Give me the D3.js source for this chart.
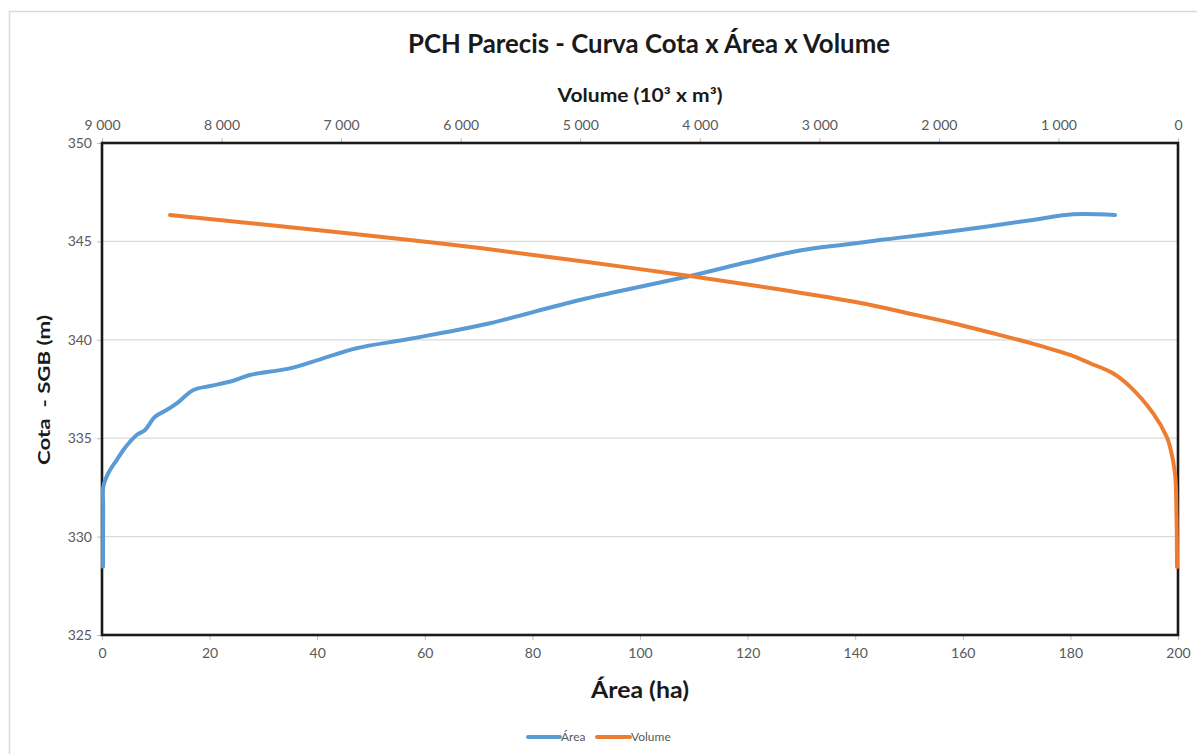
<!DOCTYPE html>
<html>
<head>
<meta charset="utf-8">
<script src="https://cdn.jsdelivr.net/npm/d3@7"></script>
<style>
  html, body { margin: 0; padding: 0; background: #fff; }
  svg { display: block; font-family: "Lato", "Open Sans", "Liberation Sans", sans-serif; }
</style>
</head>
<body>
<svg id="chart" width="1197" height="754"></svg>
<script>
// ---------------- data ----------------
const title = "PCH Parecis - Curva Cota x Área x Volume";
const xTitle = "Área (ha)";
const x2Title = "Volume (10³ x m³)";
const yTitle = "Cota  - SGB (m)";
const seriesNames = ["Área", "Volume"];

// Área curve: cota (m) and área (ha)
const areaCota = [328.47, 330.0, 331.5, 332.54, 333.05, 333.38, 333.89, 334.40, 334.82, 335.16, 335.42, 336.09, 336.43, 336.77, 337.45, 337.65, 337.92, 338.21, 338.55, 339.06, 339.57, 339.99, 340.33, 340.84, 342.02, 343.24, 343.95, 344.54, 344.87, 345.07, 345.50, 346.09, 346.38, 346.34];
const areaHa   = [0.19,   0.2,   0.22,  0.24,   0.87,   1.49,   2.73,   3.97,   5.2,    6.45,   8.0,    9.85,   12.0,   13.9,   17.0,   20.1,   24.4,   27.5,   34.9,   41.1,   47.3,   56.0,   62.8,   72.1,   88.8,   109.3,  120.1,  129.7,  139.0,  144.6,  157.6,  173.0,  180.5,  188.3];

// Volume curve: cota (m) and volume (10³ m³)
const volumeCota = [328.45, 331.2, 333.22, 334.57, 335.08, 336.27, 337.62, 338.30, 338.81, 339.23, 339.84, 340.37, 340.88, 341.44, 341.67, 341.97, 342.56, 343.24, 344.00, 344.66, 345.07, 345.72, 346.34];
const volumeK    = [8,      13,    25,     67,     95,     209,    401,    544,    736,    903,    1238,   1572,   1907,   2325,   2492,   2743,   3329,   4082,   5002,   5838,   6424,   7427,   8431];

// axes
const areaTicks   = [0, 20, 40, 60, 80, 100, 120, 140, 160, 180, 200];
const volumeTicks = [9000, 8000, 7000, 6000, 5000, 4000, 3000, 2000, 1000, 0];
const cotaTicks   = [325, 330, 335, 340, 345, 350];

// ---------------- drawing ----------------
const svg = d3.select("#chart");
const L = 102, R = 1178, T = 143, B = 635;
const blue = "#5B9BD5", orange = "#ED7D31";
const textGray = "#595959";

const fmt = d3.formatLocale({decimal: ",", thousands: "\u00a0", grouping: [3], currency: ["", ""]}).format(",d");

const x = d3.scaleLinear().domain([0, 200]).range([L, R]);
const x2 = d3.scaleLinear().domain([9000, 0]).range([L, R]);
const y = d3.scaleLinear().domain([325, 350]).range([B, T]);

// outer chart border
svg.append("rect").attr("x", 9.5).attr("y", 11.5).attr("width", 1220).attr("height", 780)
  .attr("fill", "#fff").attr("stroke", "#d9d9d9").attr("stroke-width", 1.5);

// gridlines
svg.append("g").selectAll("line").data(cotaTicks.filter(d => d > 325 && d < 350)).join("line")
  .attr("x1", L).attr("x2", R).attr("y1", d => y(d)).attr("y2", d => y(d))
  .attr("stroke", "#d9d9d9").attr("stroke-width", 1.2);

// axes
const yAxis = svg.append("g").attr("transform", `translate(${L},0)`)
  .call(d3.axisLeft(y).tickValues(cotaTicks).tickSize(5).tickPadding(5));
const xAxis = svg.append("g").attr("transform", `translate(0,${B})`)
  .call(d3.axisBottom(x).tickValues(areaTicks).tickSize(5).tickPadding(8));
const x2Axis = svg.append("g").attr("transform", `translate(0,${T})`)
  .call(d3.axisTop(x2).tickValues(volumeTicks).tickFormat(fmt).tickSize(5).tickPadding(8));
[yAxis, xAxis, x2Axis].forEach(g => {
  g.select(".domain").remove();
  g.selectAll(".tick line").attr("stroke", "#bfbfbf");
  g.selectAll(".tick text").attr("fill", textGray).attr("font-size", 14).attr("font-family", "Lato, 'Open Sans', sans-serif");
});

// series
const lineGen = d3.line().curve(d3.curveCatmullRom.alpha(0.5));
const areaPts = areaCota.map((c, i) => [x(areaHa[i]), y(c)]);
const volPts = volumeCota.map((c, i) => [x2(volumeK[i]), y(c)]);

// plot border
svg.append("rect").attr("x", L).attr("y", T).attr("width", R - L).attr("height", B - T)
  .attr("fill", "none").attr("stroke", "#1a1a1a").attr("stroke-width", 2.6);

svg.append("path").attr("d", lineGen(areaPts)).attr("fill", "none")
  .attr("stroke", blue).attr("stroke-width", 4).attr("stroke-linecap", "round").attr("stroke-linejoin", "round");
svg.append("path").attr("d", lineGen(volPts)).attr("fill", "none")
  .attr("stroke", orange).attr("stroke-width", 4).attr("stroke-linecap", "round").attr("stroke-linejoin", "round");

// titles
svg.append("text").attr("x", 649).attr("y", 53).attr("text-anchor", "middle")
  .attr("font-size", 26).attr("font-weight", "bold").attr("fill", "#1a1a1a")
  .attr("textLength", 482).attr("lengthAdjust", "spacingAndGlyphs").text(title);

svg.append("text").attr("x", 640).attr("y", 102).attr("text-anchor", "middle")
  .attr("font-size", 18).attr("font-weight", "bold").attr("fill", "#1a1a1a")
  .attr("textLength", 165).attr("lengthAdjust", "spacingAndGlyphs").text(x2Title);

svg.append("text").attr("x", 640).attr("y", 698).attr("text-anchor", "middle")
  .attr("font-size", 22).attr("font-weight", "bold").attr("fill", "#1a1a1a")
  .attr("textLength", 98).attr("lengthAdjust", "spacingAndGlyphs").text(xTitle);

svg.append("text").attr("transform", "translate(50,390) rotate(-90)").attr("text-anchor", "middle")
  .attr("font-size", 17).attr("font-weight", "bold").attr("fill", "#1a1a1a")
  .style("white-space", "pre")
  .attr("textLength", 150).attr("lengthAdjust", "spacingAndGlyphs").text(yTitle);

// legend
const legend = svg.append("g");
const legItems = [{name: seriesNames[0], color: blue, x: 528, w: 32}, {name: seriesNames[1], color: orange, x: 597, w: 33}];
legItems.forEach(d => {
  legend.append("line").attr("x1", d.x).attr("x2", d.x + d.w).attr("y1", 737).attr("y2", 737)
    .attr("stroke", d.color).attr("stroke-width", 4).attr("stroke-linecap", "round");
  legend.append("text").attr("x", d.x + d.w + 1).attr("y", 741).attr("font-size", 12)
    .attr("fill", textGray).text(d.name);
});
</script>
</body>
</html>
